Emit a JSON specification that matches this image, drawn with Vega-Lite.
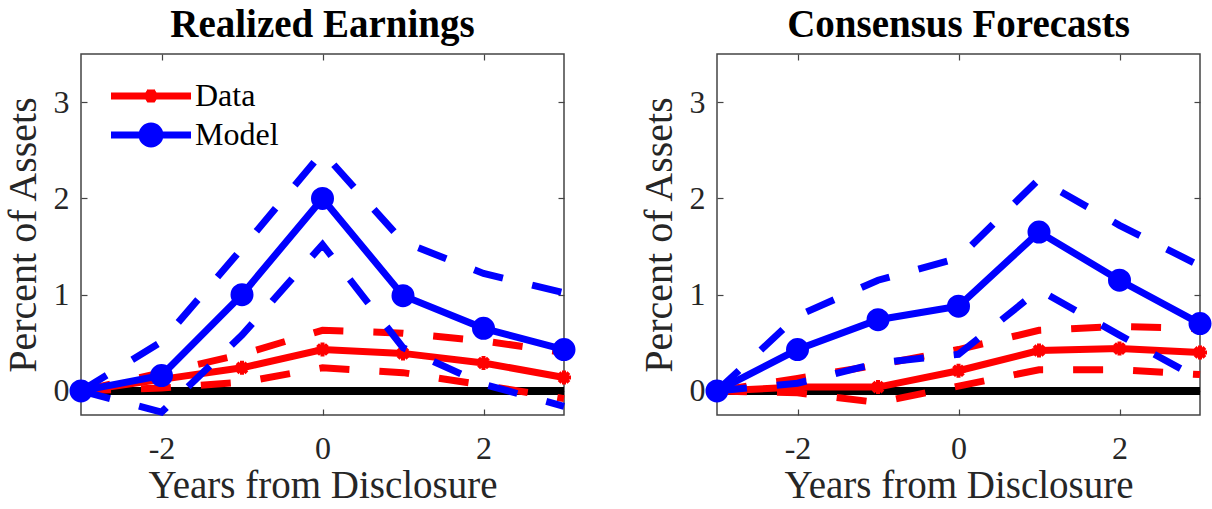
{
  "$schema": "https://vega.github.io/schema/vega-lite/v6.json",
  "background": "white",
  "padding": {"left": 2, "top": 5, "right": 0, "bottom": 0},
  "spacing": 153,
  "bounds": "flush",
  "config": {
    "font": "Liberation Serif",
    "view": {"stroke": "#444444", "strokeWidth": 1.5},
    "axis": {
      "labelFont": "Liberation Serif",
      "titleFont": "Liberation Serif",
      "labelFontSize": 32,
      "titleFontSize": 40,
      "titleFontWeight": "normal",
      "labelColor": "#262626",
      "titleColor": "#262626",
      "tickColor": "#444444",
      "tickWidth": 1.2,
      "tickSize": -6,
      "domain": false,
      "grid": false
    },
    "title": {"font": "Liberation Serif", "fontSize": 39, "fontWeight": "bold", "color": "black", "anchor": "middle", "baseline": "alphabetic", "offset": 8}
  },
  "datasets": {
    "pts": [
      {"panel": "RE", "series": "Data", "band": "mid", "x": -3, "y": 0},
      {"panel": "RE", "series": "Data", "band": "mid", "x": -2, "y": 0.12},
      {"panel": "RE", "series": "Data", "band": "mid", "x": -1, "y": 0.24},
      {"panel": "RE", "series": "Data", "band": "mid", "x": 0, "y": 0.43},
      {"panel": "RE", "series": "Data", "band": "mid", "x": 1, "y": 0.39},
      {"panel": "RE", "series": "Data", "band": "mid", "x": 2, "y": 0.29},
      {"panel": "RE", "series": "Data", "band": "mid", "x": 3, "y": 0.14},
      {"panel": "RE", "series": "Data", "band": "hi", "x": -3, "y": 0},
      {"panel": "RE", "series": "Data", "band": "hi", "x": -2, "y": 0.19},
      {"panel": "RE", "series": "Data", "band": "hi", "x": -1, "y": 0.38},
      {"panel": "RE", "series": "Data", "band": "hi", "x": 0, "y": 0.63},
      {"panel": "RE", "series": "Data", "band": "hi", "x": 1, "y": 0.6},
      {"panel": "RE", "series": "Data", "band": "hi", "x": 2, "y": 0.52},
      {"panel": "RE", "series": "Data", "band": "hi", "x": 3, "y": 0.4},
      {"panel": "RE", "series": "Data", "band": "lo", "x": -3, "y": 0},
      {"panel": "RE", "series": "Data", "band": "lo", "x": -2, "y": 0.03},
      {"panel": "RE", "series": "Data", "band": "lo", "x": -1, "y": 0.09},
      {"panel": "RE", "series": "Data", "band": "lo", "x": 0, "y": 0.24},
      {"panel": "RE", "series": "Data", "band": "lo", "x": 1, "y": 0.19},
      {"panel": "RE", "series": "Data", "band": "lo", "x": 2, "y": 0.06},
      {"panel": "RE", "series": "Data", "band": "lo", "x": 3, "y": -0.08},
      {"panel": "RE", "series": "Model", "band": "mid", "x": -3, "y": 0},
      {"panel": "RE", "series": "Model", "band": "mid", "x": -2, "y": 0.16},
      {"panel": "RE", "series": "Model", "band": "mid", "x": -1, "y": 1.0},
      {"panel": "RE", "series": "Model", "band": "mid", "x": 0, "y": 2.0},
      {"panel": "RE", "series": "Model", "band": "mid", "x": 1, "y": 0.99},
      {"panel": "RE", "series": "Model", "band": "mid", "x": 2, "y": 0.65},
      {"panel": "RE", "series": "Model", "band": "mid", "x": 3, "y": 0.43},
      {"panel": "RE", "series": "Model", "band": "hi", "x": -3, "y": 0},
      {"panel": "RE", "series": "Model", "band": "hi", "x": -2, "y": 0.51},
      {"panel": "RE", "series": "Model", "band": "hi", "x": -1, "y": 1.48},
      {"panel": "RE", "series": "Model", "band": "hi", "x": 0, "y": 2.48},
      {"panel": "RE", "series": "Model", "band": "hi", "x": 1, "y": 1.55},
      {"panel": "RE", "series": "Model", "band": "hi", "x": 2, "y": 1.22},
      {"panel": "RE", "series": "Model", "band": "hi", "x": 3, "y": 1.02},
      {"panel": "RE", "series": "Model", "band": "lo", "x": -3, "y": 0},
      {"panel": "RE", "series": "Model", "band": "lo", "x": -2, "y": -0.22},
      {"panel": "RE", "series": "Model", "band": "lo", "x": -1, "y": 0.58},
      {"panel": "RE", "series": "Model", "band": "lo", "x": 0, "y": 1.52},
      {"panel": "RE", "series": "Model", "band": "lo", "x": 1, "y": 0.45},
      {"panel": "RE", "series": "Model", "band": "lo", "x": 2, "y": 0.07},
      {"panel": "RE", "series": "Model", "band": "lo", "x": 3, "y": -0.16},
      {"panel": "CF", "series": "Data", "band": "mid", "x": -3, "y": 0},
      {"panel": "CF", "series": "Data", "band": "mid", "x": -2, "y": 0.04},
      {"panel": "CF", "series": "Data", "band": "mid", "x": -1, "y": 0.04},
      {"panel": "CF", "series": "Data", "band": "mid", "x": 0, "y": 0.21},
      {"panel": "CF", "series": "Data", "band": "mid", "x": 1, "y": 0.42},
      {"panel": "CF", "series": "Data", "band": "mid", "x": 2, "y": 0.44},
      {"panel": "CF", "series": "Data", "band": "mid", "x": 3, "y": 0.4},
      {"panel": "CF", "series": "Data", "band": "hi", "x": -3, "y": 0},
      {"panel": "CF", "series": "Data", "band": "hi", "x": -2, "y": 0.13},
      {"panel": "CF", "series": "Data", "band": "hi", "x": -1, "y": 0.27},
      {"panel": "CF", "series": "Data", "band": "hi", "x": 0, "y": 0.43},
      {"panel": "CF", "series": "Data", "band": "hi", "x": 1, "y": 0.63},
      {"panel": "CF", "series": "Data", "band": "hi", "x": 2, "y": 0.67},
      {"panel": "CF", "series": "Data", "band": "hi", "x": 3, "y": 0.65},
      {"panel": "CF", "series": "Data", "band": "lo", "x": -3, "y": 0},
      {"panel": "CF", "series": "Data", "band": "lo", "x": -2, "y": -0.02},
      {"panel": "CF", "series": "Data", "band": "lo", "x": -1, "y": -0.12},
      {"panel": "CF", "series": "Data", "band": "lo", "x": 0, "y": 0.05},
      {"panel": "CF", "series": "Data", "band": "lo", "x": 1, "y": 0.22},
      {"panel": "CF", "series": "Data", "band": "lo", "x": 2, "y": 0.22},
      {"panel": "CF", "series": "Data", "band": "lo", "x": 3, "y": 0.17},
      {"panel": "CF", "series": "Model", "band": "mid", "x": -3, "y": 0},
      {"panel": "CF", "series": "Model", "band": "mid", "x": -2, "y": 0.43},
      {"panel": "CF", "series": "Model", "band": "mid", "x": -1, "y": 0.74},
      {"panel": "CF", "series": "Model", "band": "mid", "x": 0, "y": 0.88},
      {"panel": "CF", "series": "Model", "band": "mid", "x": 1, "y": 1.65},
      {"panel": "CF", "series": "Model", "band": "mid", "x": 2, "y": 1.15},
      {"panel": "CF", "series": "Model", "band": "mid", "x": 3, "y": 0.7},
      {"panel": "CF", "series": "Model", "band": "hi", "x": -3, "y": 0},
      {"panel": "CF", "series": "Model", "band": "hi", "x": -2, "y": 0.78},
      {"panel": "CF", "series": "Model", "band": "hi", "x": -1, "y": 1.15},
      {"panel": "CF", "series": "Model", "band": "hi", "x": 0, "y": 1.38},
      {"panel": "CF", "series": "Model", "band": "hi", "x": 1, "y": 2.2},
      {"panel": "CF", "series": "Model", "band": "hi", "x": 2, "y": 1.72},
      {"panel": "CF", "series": "Model", "band": "hi", "x": 3, "y": 1.3},
      {"panel": "CF", "series": "Model", "band": "lo", "x": -3, "y": 0},
      {"panel": "CF", "series": "Model", "band": "lo", "x": -2, "y": 0.08},
      {"panel": "CF", "series": "Model", "band": "lo", "x": -1, "y": 0.29},
      {"panel": "CF", "series": "Model", "band": "lo", "x": 0, "y": 0.38},
      {"panel": "CF", "series": "Model", "band": "lo", "x": 1, "y": 1.05},
      {"panel": "CF", "series": "Model", "band": "lo", "x": 2, "y": 0.58},
      {"panel": "CF", "series": "Model", "band": "lo", "x": 3, "y": 0.12}
    ]
  },
  "resolve": {"scale": {"color": "independent"}, "legend": {"color": "independent"}},
  "hconcat": [
    {
      "width": 483,
      "height": 361,
      "title": "Realized Earnings",
      "data": {"name": "pts"},
      "transform": [{"filter": "datum.panel === 'RE'"}],
      "resolve": {"axis": {"x": "independent", "y": "independent"}},
      "layer": [
        {
          "mark": {"type": "rule", "color": "black", "strokeWidth": 7},
          "encoding": {"y": {"datum": 0, "type": "quantitative", "scale": {"domain": [-0.25, 3.5], "nice": false, "zero": false}, "axis": null}}
        },
        {
          "transform": [{"filter": "datum.series === 'Data' && datum.band !== 'mid'"}],
          "mark": {"type": "line", "color": "#ff0000", "strokeWidth": 7, "strokeDash": [30, 30]},
          "encoding": {
            "x": {"field": "x", "type": "quantitative", "scale": {"domain": [-3, 3], "nice": false, "zero": false},
                  "axis": {"orient": "bottom", "values": [-2, 0, 2], "labelExpr": "'' + datum.value", "title": "Years from Disclosure", "titleFontSize": 39, "labelPadding": 24, "titlePadding": 2}},
            "y": {"field": "y", "type": "quantitative", "scale": {"domain": [-0.25, 3.5], "nice": false, "zero": false},
                  "axis": {"orient": "left", "values": [0, 1, 2, 3], "title": "Percent of Assets", "labelPadding": 18, "titlePadding": 10}},
            "detail": {"field": "band"}
          }
        },
        {
          "transform": [{"filter": "datum.series === 'Data' && datum.band === 'mid'"}],
          "mark": {"type": "line", "strokeWidth": 7},
          "encoding": {
            "x": {"field": "x", "type": "quantitative", "scale": {"domain": [-3, 3], "nice": false, "zero": false}, "axis": null},
            "y": {"field": "y", "type": "quantitative", "scale": {"domain": [-0.25, 3.5], "nice": false, "zero": false}, "axis": null},
            "color": {"field": "series", "type": "nominal", "scale": {"domain": ["Data", "Model"], "range": ["#ff0000", "#0000ff"]},
              "legend": {
                "orient": "none", "legendX": 54, "legendY": 26, "title": null,
                "labelFont": "Liberation Serif", "labelFontSize": 32, "labelColor": "black",
                "symbolSize": 400, "symbolStrokeWidth": 7, "labelOffset": 28, "rowPadding": -5,
                "encode": {"symbols": {"update": {
                  "shape": {"signal": "datum.value === 'Data' ? 'M -4 0 L 4 0 M 0 -0.65 L 0 0.65 M -0.55 -0.35 L 0.55 0.35 M -0.55 0.35 L 0.55 -0.35' : 'M -4 0 L 4 0 M 0.9 0 A 0.9 0.9 0 1 1 -0.9 0 A 0.9 0.9 0 1 1 0.9 0 Z'"},
                  "fill": {"signal": "datum.value === 'Data' ? 'transparent' : '#0000ff'"},
                  "stroke": {"signal": "datum.value === 'Data' ? '#ff0000' : '#0000ff'"},
                  "strokeWidth": {"value": 7}
                }}}
              }}
          }
        },
        {
          "transform": [{"filter": "datum.series === 'Data' && datum.band === 'mid'"}],
          "mark": {"type": "point", "shape": "M -1 0 L 1 0 M 0 -1 L 0 1 M -0.7 -0.7 L 0.7 0.7 M -0.7 0.7 L 0.7 -0.7", "filled": false, "stroke": "#ff0000", "strokeWidth": 4, "size": 196, "opacity": 1},
          "encoding": {
            "x": {"field": "x", "type": "quantitative", "scale": {"domain": [-3, 3], "nice": false, "zero": false}, "axis": null},
            "y": {"field": "y", "type": "quantitative", "scale": {"domain": [-0.25, 3.5], "nice": false, "zero": false}, "axis": null}
          }
        },
        {
          "transform": [{"filter": "datum.series === 'Model' && datum.band !== 'mid'"}],
          "mark": {"type": "line", "color": "#0000ff", "strokeWidth": 7, "strokeDash": [30, 30]},
          "encoding": {
            "x": {"field": "x", "type": "quantitative", "scale": {"domain": [-3, 3], "nice": false, "zero": false}, "axis": null},
            "y": {"field": "y", "type": "quantitative", "scale": {"domain": [-0.25, 3.5], "nice": false, "zero": false}, "axis": null},
            "detail": {"field": "band"}
          }
        },
        {
          "transform": [{"filter": "datum.series === 'Model' && datum.band === 'mid'"}],
          "mark": {"type": "line", "strokeWidth": 7},
          "encoding": {
            "x": {"field": "x", "type": "quantitative", "scale": {"domain": [-3, 3], "nice": false, "zero": false},
                  "axis": {"orient": "top", "values": [-2, 0, 2], "labels": false, "title": null}},
            "y": {"field": "y", "type": "quantitative", "scale": {"domain": [-0.25, 3.5], "nice": false, "zero": false},
                  "axis": {"orient": "right", "values": [0, 1, 2, 3], "labels": false, "title": null}},
            "color": {"field": "series", "type": "nominal", "scale": {"domain": ["Data", "Model"], "range": ["#ff0000", "#0000ff"]}}
          }
        },
        {
          "transform": [{"filter": "datum.series === 'Model' && datum.band === 'mid'"}],
          "mark": {"type": "point", "shape": "circle", "filled": true, "fill": "#0000ff", "stroke": "#0000ff", "strokeWidth": 3, "size": 400, "opacity": 1},
          "encoding": {
            "x": {"field": "x", "type": "quantitative", "scale": {"domain": [-3, 3], "nice": false, "zero": false}, "axis": null},
            "y": {"field": "y", "type": "quantitative", "scale": {"domain": [-0.25, 3.5], "nice": false, "zero": false}, "axis": null}
          }
        }
      ]
    },
    {
      "width": 483,
      "height": 361,
      "title": "Consensus Forecasts",
      "data": {"name": "pts"},
      "transform": [{"filter": "datum.panel === 'CF'"}],
      "resolve": {"axis": {"x": "independent", "y": "independent"}},
      "layer": [
        {
          "mark": {"type": "rule", "color": "black", "strokeWidth": 7},
          "encoding": {"y": {"datum": 0, "type": "quantitative", "scale": {"domain": [-0.25, 3.5], "nice": false, "zero": false}, "axis": null}}
        },
        {
          "transform": [{"filter": "datum.series === 'Data' && datum.band !== 'mid'"}],
          "mark": {"type": "line", "color": "#ff0000", "strokeWidth": 7, "strokeDash": [30, 30]},
          "encoding": {
            "x": {"field": "x", "type": "quantitative", "scale": {"domain": [-3, 3], "nice": false, "zero": false},
                  "axis": {"orient": "bottom", "values": [-2, 0, 2], "labelExpr": "'' + datum.value", "title": "Years from Disclosure", "titleFontSize": 39, "labelPadding": 24, "titlePadding": 2}},
            "y": {"field": "y", "type": "quantitative", "scale": {"domain": [-0.25, 3.5], "nice": false, "zero": false},
                  "axis": {"orient": "left", "values": [0, 1, 2, 3], "title": "Percent of Assets", "labelPadding": 18, "titlePadding": 10}},
            "detail": {"field": "band"}
          }
        },
        {
          "transform": [{"filter": "datum.series === 'Data' && datum.band === 'mid'"}],
          "mark": {"type": "line", "color": "#ff0000", "strokeWidth": 7},
          "encoding": {
            "x": {"field": "x", "type": "quantitative", "scale": {"domain": [-3, 3], "nice": false, "zero": false}, "axis": null},
            "y": {"field": "y", "type": "quantitative", "scale": {"domain": [-0.25, 3.5], "nice": false, "zero": false}, "axis": null}
          }
        },
        {
          "transform": [{"filter": "datum.series === 'Data' && datum.band === 'mid'"}],
          "mark": {"type": "point", "shape": "M -1 0 L 1 0 M 0 -1 L 0 1 M -0.7 -0.7 L 0.7 0.7 M -0.7 0.7 L 0.7 -0.7", "filled": false, "stroke": "#ff0000", "strokeWidth": 4, "size": 196, "opacity": 1},
          "encoding": {
            "x": {"field": "x", "type": "quantitative", "scale": {"domain": [-3, 3], "nice": false, "zero": false}, "axis": null},
            "y": {"field": "y", "type": "quantitative", "scale": {"domain": [-0.25, 3.5], "nice": false, "zero": false}, "axis": null}
          }
        },
        {
          "transform": [{"filter": "datum.series === 'Model' && datum.band !== 'mid'"}],
          "mark": {"type": "line", "color": "#0000ff", "strokeWidth": 7, "strokeDash": [30, 30]},
          "encoding": {
            "x": {"field": "x", "type": "quantitative", "scale": {"domain": [-3, 3], "nice": false, "zero": false}, "axis": null},
            "y": {"field": "y", "type": "quantitative", "scale": {"domain": [-0.25, 3.5], "nice": false, "zero": false}, "axis": null},
            "detail": {"field": "band"}
          }
        },
        {
          "transform": [{"filter": "datum.series === 'Model' && datum.band === 'mid'"}],
          "mark": {"type": "line", "color": "#0000ff", "strokeWidth": 7},
          "encoding": {
            "x": {"field": "x", "type": "quantitative", "scale": {"domain": [-3, 3], "nice": false, "zero": false},
                  "axis": {"orient": "top", "values": [-2, 0, 2], "labels": false, "title": null}},
            "y": {"field": "y", "type": "quantitative", "scale": {"domain": [-0.25, 3.5], "nice": false, "zero": false},
                  "axis": {"orient": "right", "values": [0, 1, 2, 3], "labels": false, "title": null}}
          }
        },
        {
          "transform": [{"filter": "datum.series === 'Model' && datum.band === 'mid'"}],
          "mark": {"type": "point", "shape": "circle", "filled": true, "fill": "#0000ff", "stroke": "#0000ff", "strokeWidth": 3, "size": 400, "opacity": 1},
          "encoding": {
            "x": {"field": "x", "type": "quantitative", "scale": {"domain": [-3, 3], "nice": false, "zero": false}, "axis": null},
            "y": {"field": "y", "type": "quantitative", "scale": {"domain": [-0.25, 3.5], "nice": false, "zero": false}, "axis": null}
          }
        }
      ]
    }
  ]
}
